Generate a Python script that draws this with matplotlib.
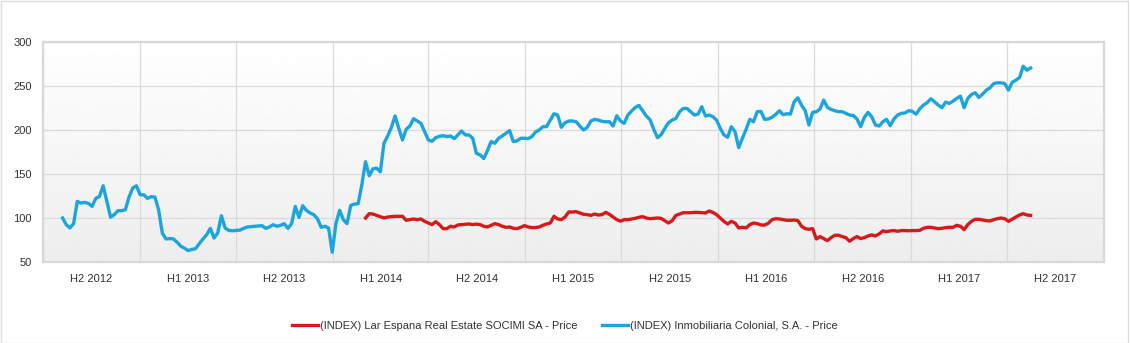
import matplotlib
matplotlib.use("Agg")
import matplotlib.pyplot as plt
import matplotlib.dates as mdates
from matplotlib.patches import Rectangle
import numpy as np
import pandas as pd

plt.rcParams["font.family"] = ["Liberation Sans", "DejaVu Sans"]

# weekly closes, first week = early Aug 2012
start_date = "2012-08-07"
colonial = [
    100, 92.5, 88.7, 93.6, 118.9, 117, 117.7, 116.6, 113.2, 122.3,
    124.5, 136.6, 118.9, 101, 103.8, 108.3, 108.3, 109.4, 123.8, 134,
    136.6, 126.4, 126.4, 122.3, 124.2, 123.8, 109.4, 83, 76.2, 76.6,
    76.2, 72.5, 68, 65.7, 63, 64.3, 65.1, 70.8, 76.1, 81,
    88.2, 77.3, 83, 102.6, 88.6, 85.9, 85.5, 85.9, 86.2, 88.2,
    89.8, 90.2, 90.6, 90.9, 91.3, 88.2, 89.8, 92.4, 90.6, 91.7,
    93.5, 88.2, 93.5, 113.2, 100.7, 114, 108.7, 105.7, 103.8, 99.2,
    89.4, 90.6, 88.6, 61, 94, 108.7, 98, 93.6, 114.3, 115.8,
    116.2, 137.7, 164, 148, 155.9, 156.6, 152.5, 185, 193.2, 203,
    216, 201.9, 188.7, 200.8, 204.5, 212.8, 210.2, 207.6, 198.1, 188.7,
    187.2, 191.3, 192.8, 193.6, 192.5, 193.2, 190.2, 194.4, 198.9, 194.4,
    194.4, 190.6, 173.6, 171.7, 167.6, 176.6, 186.8, 184.9, 190.6, 193.2,
    196.2, 199.3, 186.8, 187.6, 190.6, 190.6, 190.2, 192.5, 197.7, 200,
    203.8, 203.8, 211.3, 218.5, 217, 203, 208.3, 210.2, 210.2, 209.4,
    204.5, 200, 203, 210.2, 212.1, 211.3, 209.8, 209.4, 209.4, 204.5,
    216.2, 210.2, 207.6, 217, 221.5, 225.7, 227.9, 221.9, 215.9, 211.7,
    200.8, 191.3, 194.7, 201.9, 208.3, 211.3, 213.2, 220.8, 224.5, 224.5,
    220.8, 217, 218.1, 226.4, 215.9, 217, 215.1, 211.3, 201.9, 194.4,
    191.7, 203.8, 198.1, 180, 190.6, 200.8, 212.1, 209.4, 220.8, 221.1,
    212.1, 212.5, 214.4, 217.7, 221.9, 217.4, 218.5, 218.1, 232.1, 236.6,
    228.3, 221.9, 205.7, 220, 220.8, 223.8, 234, 225.7, 223.4, 221.9,
    220.8, 220.8, 218.9, 217, 216.6, 212.5, 203.8, 214.4, 220, 215.1,
    205.7, 204.5, 209.4, 212.1, 204.9, 212.5, 217, 218.9, 219.3, 222,
    221.1, 218.1, 224.1, 228.3, 231, 235.5, 232.1, 228.3, 225.3, 231.7,
    230.2, 232.8, 235.9, 238.5, 225.3, 235.9, 240.4, 242.3, 237, 240.8,
    245.3, 247.9, 252.8, 253.6, 253.6, 252.8, 245.3, 254, 256.6, 259.6,
    272.5, 268, 270.5,
]
# Lar Espana begins 82 weeks later (Mar 2014)
lar_offset = 82
lar = [
    100, 104.9, 104.5, 103, 101.5, 100, 101.1, 101.5, 101.9, 101.9,
    101.9, 97.4, 98.1, 98.9, 98.1, 98.9, 96.2, 94.3, 92.5, 95.8,
    92.5, 87.9, 87.9, 90.6, 89.8, 92.1, 92.5, 92.8, 93.2, 92.5,
    93, 92.5, 90.6, 89.8, 91.7, 93.6, 92.5, 90.6, 89.4, 89.8,
    88.3, 87.9, 89.4, 91.3, 89.8, 89.1, 89.1, 89.8, 91.7, 93.2,
    94.3, 101.9, 98.9, 98.1, 101.1, 106.8, 106.8, 107.2, 105.7, 104.2,
    103.8, 103, 104.5, 103.4, 103.8, 106.4, 104.2, 101.1, 98.1, 96.4,
    98.1, 98.1, 98.9, 99.6, 100.8, 101.5, 100, 99.2, 99.6, 100,
    99.6, 97, 94.3, 97, 103, 104.5, 106, 106, 106, 106.4,
    106.4, 106, 105.7, 107.9, 106.4, 103.8, 100, 96.2, 93.2, 96.2,
    94.3, 88.7, 89.4, 88.7, 92.5, 94.3, 93.6, 92.1, 92, 94,
    98.1, 99.2, 98.9, 98.1, 97.4, 97.4, 97.7, 97, 90.6, 87.9,
    87.2, 87.9, 76.2, 78.9, 76.6, 74.3, 77.7, 80.4, 80.4, 78.9,
    77.7, 73.6, 76.6, 78.9, 76.6, 77.7, 79.6, 80.8, 79.6, 81.9,
    85.3, 84.5, 85.3, 85.7, 84.9, 85.7, 85.7, 85.5, 85.7, 85.7,
    86, 88.3, 89.4, 89.4, 88.7, 87.9, 88.3, 89.1, 89.4, 89.4,
    91.7, 90.6, 86.8, 92.5, 96.2, 98.5, 98.5, 97.7, 97, 96.6,
    98.1, 99.2, 100, 99.2, 96.2, 98.5, 101.1, 103.4, 104.9, 103.4,
    103,
]
yticks = [50, 100, 150, 200, 250, 300]
half_labels = ["H2 2012", "H1 2013", "H2 2013", "H1 2014", "H2 2014", "H1 2015",
               "H2 2015", "H1 2016", "H2 2016", "H1 2017", "H2 2017"]
lar_name = "(INDEX) Lar Espana Real Estate SOCIMI SA - Price"
col_name = "(INDEX) Inmobiliaria Colonial, S.A. - Price"

weeks = pd.date_range(start_date, periods=len(colonial), freq="7D")

fig = plt.figure(figsize=(11.3, 3.43), dpi=100)
ax = fig.add_axes([43 / 1130, 1 - 262 / 343, 1061 / 1130, 220 / 343])

# soft vertical gradient background
grad = np.linspace(0.93, 1.0, 256).reshape(-1, 1)
ax.imshow(grad, extent=[0, 1, 0, 1], transform=ax.transAxes, cmap="gray",
          vmin=0, vmax=1, aspect="auto", origin="lower", zorder=0)

ax.plot(weeks[lar_offset:lar_offset + len(lar)], lar, color="#d7191b", lw=2.4,
        label=lar_name, zorder=3, solid_joinstyle="round")
ax.plot(weeks, colonial, color="#1ca5dc", lw=2.4, label=col_name, zorder=3,
        solid_joinstyle="round")

ax.set_xlim(pd.Timestamp("2012-07-01"), pd.Timestamp("2018-01-01"))
ax.set_ylim(50, 300)
ax.set_yticks(yticks)

bounds = pd.date_range("2012-07-01", "2018-01-01", freq="6MS")
ax.set_xticks(bounds)
ax.set_xticklabels([])
mids = [a + (b - a) / 2 for a, b in zip(bounds[:-1], bounds[1:])]
ax.set_xticks(mids, minor=True)
ax.set_xticklabels(half_labels, minor=True)

ax.grid(True, which="major", color="#dadada", lw=0.9, zorder=1)
ax.tick_params(which="both", length=0, labelsize=8, colors="#333333")
ax.tick_params(axis="y", pad=8)
ax.tick_params(axis="x", which="minor", pad=9)
for s in ax.spines.values():
    s.set_color("#d8d8d8")
    s.set_linewidth(1.6)

fig.legend(loc="lower center", bbox_to_anchor=(0.5, 0.005), ncol=2, frameon=False,
           fontsize=8, handlelength=2.3, handletextpad=0.2, columnspacing=2.2,
           labelcolor="#333333")

fig.add_artist(Rectangle((0.0005, 0.001), 0.998, 0.997, transform=fig.transFigure,
                         fill=False, edgecolor="#dddddd", lw=1))

fig.savefig("out.png", dpi=100)
